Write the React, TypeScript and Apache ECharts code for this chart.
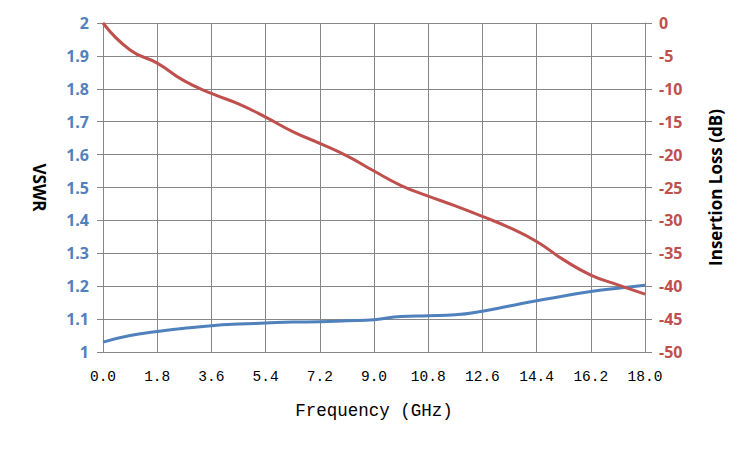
import React, { useEffect, useRef } from "react";
import * as echarts from "echarts";

const freqs = [0, 0.9, 1.8, 2.7, 3.6, 4.5, 5.4, 6.3, 7.2, 8.1, 9.0, 9.9, 10.8, 11.7, 12.6, 13.5, 14.4, 15.3, 16.2, 17.1, 18.0];
const vswr = [1.030, 1.050, 1.062, 1.072, 1.080, 1.085, 1.088, 1.091, 1.092, 1.095, 1.098, 1.108, 1.110, 1.113, 1.124, 1.140, 1.156, 1.170, 1.184, 1.194, 1.203];
const insertionLoss = [0, -4.1, -6.1, -8.8, -10.7, -12.3, -14.3, -16.5, -18.3, -20.2, -22.5, -24.7, -26.3, -27.8, -29.4, -31.1, -33.2, -36.0, -38.3, -39.8, -41.2];

const BLUE = "#4F81BD";
const RED = "#C0504D";
const GRID = "#868686";

export default function App() {
  const ref = useRef<HTMLDivElement>(null);
  useEffect(() => {
    if (!ref.current) return;
    const chart = echarts.init(ref.current, undefined, { renderer: "svg" });
    const lineStyle = { color: GRID, width: 1 };
    chart.setOption({
      animation: false,
      backgroundColor: "#ffffff",
      grid: { left: 103, right: 105, top: 23, bottom: 98 },
      xAxis: {
        type: "value",
        min: 0,
        max: 18,
        interval: 1.8,
        name: "Frequency (GHz)",
        nameLocation: "middle",
        nameGap: 50,
        nameTextStyle: { fontFamily: "Liberation Mono", fontSize: 17.5, color: "#000" },
        axisLine: { show: true, lineStyle },
        axisTick: { show: true, length: 6, lineStyle },
        splitLine: { show: true, lineStyle },
        axisLabel: {
          fontFamily: "Liberation Mono",
          fontSize: 14.5,
          color: "#000",
          margin: 17,
          formatter: (v: number) => v.toFixed(1),
        },
      },
      yAxis: [
        {
          type: "value",
          min: 1,
          max: 2,
          interval: 0.1,
          position: "left",
          name: "VSWR",
          nameLocation: "middle",
          nameRotate: -90,
          nameGap: 55,
          nameTextStyle: { fontFamily: "Open Sans", fontWeight: "bold", fontSize: 17, color: "#000" },
          axisLine: { show: true, lineStyle },
          axisTick: { show: true, length: 6, lineStyle },
          splitLine: { show: true, lineStyle },
          axisLabel: {
            fontFamily: "Open Sans",
            fontWeight: "bold",
            fontSize: 16,
            color: BLUE,
            margin: 14,
            formatter: (v: number) => String(Math.round(v * 10) / 10),
          },
        },
        {
          type: "value",
          min: -50,
          max: 0,
          interval: 5,
          position: "right",
          name: "Insertion Loss (dB)",
          nameLocation: "middle",
          nameRotate: 90,
          nameGap: 62,
          nameTextStyle: { fontFamily: "Open Sans", fontWeight: "bold", fontSize: 17, color: "#000" },
          axisLine: { show: true, lineStyle },
          axisTick: { show: true, length: 7, lineStyle },
          splitLine: { show: false },
          axisLabel: {
            fontFamily: "Open Sans",
            fontWeight: "bold",
            fontSize: 16,
            color: RED,
            margin: 14,
          },
        },
      ],
      series: [
        {
          name: "VSWR",
          type: "line",
          yAxisIndex: 0,
          smooth: true,
          showSymbol: false,
          lineStyle: { color: BLUE, width: 3 },
          itemStyle: { color: BLUE },
          data: freqs.map((f, i) => [f, vswr[i]]),
        },
        {
          name: "Insertion Loss",
          type: "line",
          yAxisIndex: 1,
          smooth: true,
          showSymbol: false,
          lineStyle: { color: RED, width: 3 },
          itemStyle: { color: RED },
          data: freqs.map((f, i) => [f, insertionLoss[i]]),
        },
      ],
    });
    return () => chart.dispose();
  }, []);
  return (
    <div
      ref={ref}
      style={{ position: "fixed", left: 0, top: 0, width: 750, height: 450, background: "#fff" }}
    />
  );
}
